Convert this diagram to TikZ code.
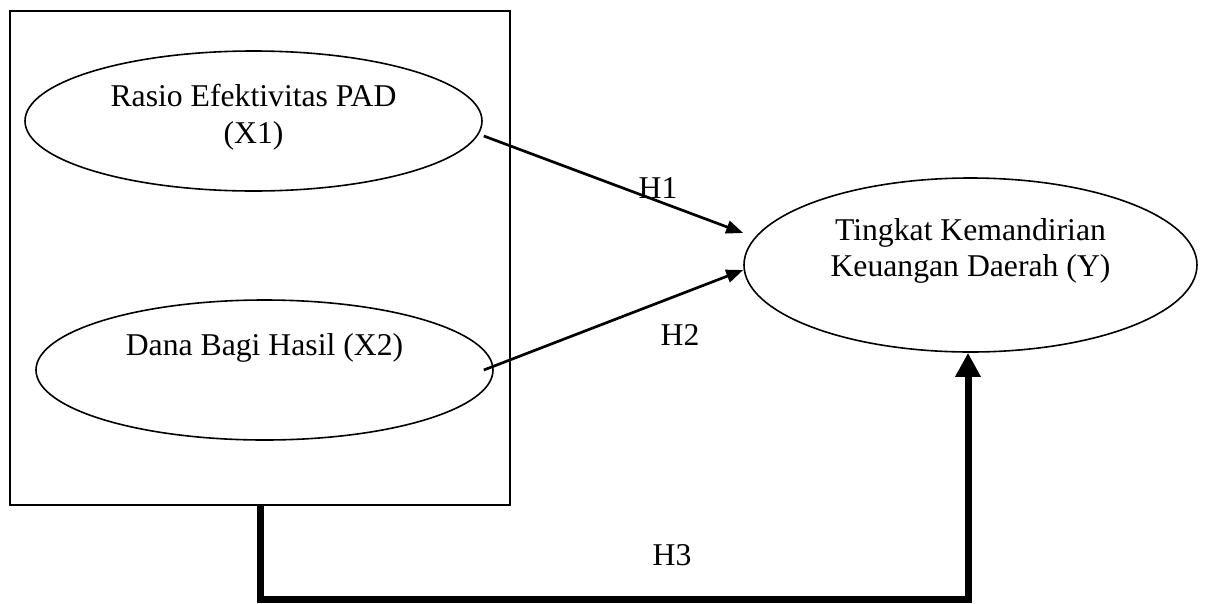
\documentclass[tikz,border=0pt]{standalone}
\usepackage{fontspec}
\setmainfont{Liberation Serif}
\usetikzlibrary{calc}
\usetikzlibrary{arrows.meta}
\usetikzlibrary{shapes.geometric}

\tikzset{
	kotak/.style		= {draw, line width=1.6pt, inner sep=0pt},
	variabel/.style		= {draw, ellipse, line width=1.6pt, inner sep=0pt},
	teks/.style			= {align=center, inner sep=0pt, font=\fontsize{31.7pt}{36.5pt}\selectfont},
	panah/.style		= {line width=2.7pt, -{Triangle[length=17pt,width=13pt]}},
	panahtebal/.style	= {line width=7pt, -{Triangle[length=24pt,width=24pt]}},
}

\begin{document}
\begin{tikzpicture}[x=1pt, y=-1pt]
	\useasboundingbox (0,0) rectangle (1205,603);
	\coordinate (dasar)	at (0,599.5);

	\node[kotak, minimum width=500pt, minimum height=494pt]		(bingkai)	at (260,258)	{};
	\node[variabel, minimum width=457pt, minimum height=140pt]	(pad)		at (253.5,121)	{};
	\node[variabel, minimum width=457pt, minimum height=140pt]	(dbh)		at (264.5,370)	{};
	\node[variabel, minimum width=453pt, minimum height=174pt]	(tkkd)		at (970.5,265)	{};
	\coordinate (ujung)	at ([xshift=-2.5]tkkd.south);

	\node[teks]	(padteks)	at ([yshift=4]pad.center)	{Rasio Efektivitas PAD\\(X1)};
	\node[teks]	(dbhteks)	at ([yshift=22]dbh.center)	{Dana Bagi Hasil (X2)};
	\node[teks]	(tkkdteks)	at ([yshift=14]tkkd.center)	{Tingkat Kemandirian\\Keuangan Daerah (Y)};

	\draw[panah] ([shift={(1,15)}]pad.east) -- ([yshift=32]tkkd.west);
	\draw[panah] ([xshift=-10]dbh.east) -- ([yshift=-5]tkkd.west);
	\draw[panahtebal] (bingkai.south) |- (dasar -| ujung) -- (ujung);

	\node[teks]	(h1)	at (658,188)	{H1};
	\node[teks]	(h2)	at (680,335)	{H2};
	\node[teks]	(h3)	at (672,555)	{H3};
%	\filldraw (dasar) circle (2pt);
\end{tikzpicture}
\end{document}
